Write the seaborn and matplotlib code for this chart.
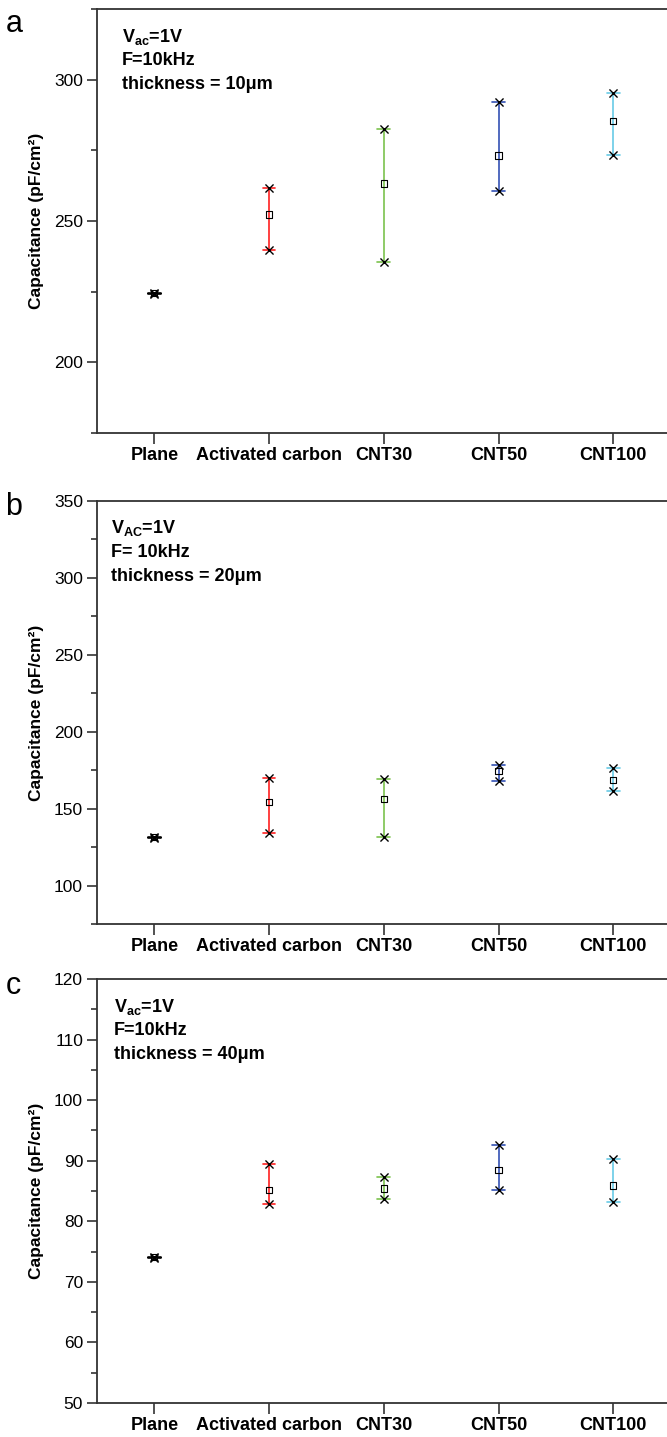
import numpy as np
import pandas as pd
import matplotlib
matplotlib.use("Agg")
import matplotlib.pyplot as plt
import seaborn as sns
from matplotlib.ticker import MultipleLocator

samples = ["Plane", "Activated carbon", "CNT30", "CNT50", "CNT100"]
colors = ["black", "#ff2020", "#7cc24e", "#3452b4", "#68cbe6"]

# thickness 10um
low_10 = [224.2, 239.8, 235.4, 260.7, 273.3]
mid_10 = [224.4, 252.3, 263.3, 273.2, 285.4]
high_10 = [224.6, 261.6, 282.6, 292.0, 295.4]

# thickness 20um
low_20 = [131.2, 134.4, 131.6, 168.2, 161.3]
mid_20 = [131.4, 154.3, 156.5, 174.7, 168.6]
high_20 = [131.6, 169.9, 169.5, 178.1, 176.4]

# thickness 40um
low_40 = [73.95, 82.8, 83.7, 85.2, 83.2]
mid_40 = [74.05, 85.2, 85.4, 88.5, 85.9]
high_40 = [74.15, 89.5, 87.25, 92.65, 90.2]

panels = [
    dict(letter="a", low=low_10, mid=mid_10, high=high_10, ylim=(175, 325),
         yticks=[200, 250, 300], minor=25,
         notes=[r"V$_\mathbf{ac}$=1V", "F=10kHz", "thickness = 10μm"],
         rect=[0.1454, 0.6987, 0.86, 0.2950], note_x=0.044, letter_y=0.9935),
    dict(letter="b", low=low_20, mid=mid_20, high=high_20, ylim=(75, 350),
         yticks=[100, 150, 200, 250, 300, 350], minor=25,
         notes=[r"V$_\mathbf{AC}$=1V", "F= 10kHz", "thickness = 20μm"],
         rect=[0.1454, 0.3570, 0.86, 0.2944], note_x=0.024, letter_y=0.6575),
    dict(letter="c", low=low_40, mid=mid_40, high=high_40, ylim=(50, 120),
         yticks=[50, 60, 70, 80, 90, 100, 110, 120], minor=5,
         notes=[r"V$_\mathbf{ac}$=1V", "F=10kHz", "thickness = 40μm"],
         rect=[0.1454, 0.0237, 0.86, 0.2950], note_x=0.030, letter_y=0.3245),
]

sns.set_style("ticks")
plt.rcParams["font.family"] = ["Liberation Sans", "DejaVu Sans"]
plt.rcParams["mathtext.fontset"] = "custom"
plt.rcParams["mathtext.rm"] = "Liberation Sans"
plt.rcParams["mathtext.bf"] = "Liberation Sans:bold"
for key in ["text.color", "axes.labelcolor", "xtick.labelcolor", "ytick.labelcolor"]:
    plt.rcParams[key] = "black"

palette = dict(zip(range(len(samples)), colors))
fig = plt.figure(figsize=(6.67, 14.37), dpi=100)

for p in panels:
    ax = fig.add_axes(p["rect"])
    pos = list(range(len(samples)))
    df = pd.DataFrame({
        "pos": pos * 3,
        "cap": p["low"] + p["mid"] + p["high"],
    })
    ends = pd.DataFrame({"pos": pos * 2, "cap": p["low"] + p["high"]})
    centers = pd.DataFrame({"pos": pos, "cap": p["mid"]})

    sns.pointplot(data=df, x="pos", y="cap", hue="pos", order=pos, hue_order=pos,
                  palette=palette, estimator="median",
                  errorbar=lambda v: (v.min(), v.max()), capsize=0.11,
                  linestyle="none", marker="", err_kws={"linewidth": 1.2},
                  legend=False, ax=ax)
    sns.scatterplot(data=ends, x="pos", y="cap", marker="x", color="black",
                    s=34, linewidth=1.0, zorder=5, legend=False, ax=ax)
    sns.scatterplot(data=centers, x="pos", y="cap", marker="s", facecolor="none",
                    edgecolor="black", s=20, linewidth=0.8, zorder=5,
                    legend=False, ax=ax)

    ax.set_xlim(-0.5, len(samples) - 0.5)
    ax.set_ylim(*p["ylim"])
    ax.set_xticks(pos)
    ax.set_xticklabels(samples, fontsize=13, fontweight="bold")
    ax.set_yticks(p["yticks"])
    ax.yaxis.set_minor_locator(MultipleLocator(p["minor"]))
    ax.tick_params(axis="y", which="major", length=7, width=1.2, labelsize=12.5,
                   color="#333333", pad=3)
    ax.tick_params(axis="y", which="minor", length=4, width=1.2, color="#333333")
    ax.tick_params(axis="x", length=8, width=1.2, color="#333333", pad=2)
    ax.set_xlabel("")
    ax.set_ylabel("Capacitance (pF/cm²)", fontsize=12.5, fontweight="bold",
                  labelpad=7)
    for side in ["left", "bottom", "top"]:
        ax.spines[side].set_visible(True)
        ax.spines[side].set_linewidth(1.3)
        ax.spines[side].set_color("#333333")
    ax.spines["right"].set_visible(False)

    for i, line in enumerate(p["notes"]):
        ax.text(p["note_x"], 0.935 - i * 0.057, line, transform=ax.transAxes,
                fontsize=13, fontweight="bold", va="center", ha="left")

    fig.text(0.008, p["letter_y"], p["letter"], fontsize=22, va="top", ha="left")

fig.savefig("out.png", dpi=100)
